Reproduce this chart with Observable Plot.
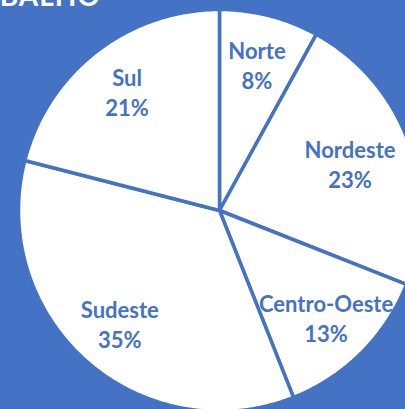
<!DOCTYPE html>
<html>
<head>
<meta charset="utf-8">
<script src="https://cdn.jsdelivr.net/npm/d3@7"></script>
<script src="https://cdn.jsdelivr.net/npm/@observablehq/plot@0.6"></script>
<style>
  html, body { margin: 0; padding: 0; background: #4472C4; overflow: hidden; }
  #wrap { position: relative; width: 405px; height: 409px; }
  #title { position: absolute; right: 304px; top: -22px; color: #fff; font: bold 28px Lato, sans-serif; white-space: nowrap; letter-spacing: 1px; }
  #chart { position: absolute; left: 0; top: 0; }
</style>
</head>
<body>
<div id="wrap">
  <div id="chart"></div>
  <div id="title">TRABALHO</div>
</div>
<script>
const regions = ["Norte", "Nordeste", "Centro-Oeste", "Sudeste", "Sul"];
const shares = [8, 23, 13, 35, 21];

const blue = "#4472C4";
const fontSize = 22;
const data = regions.map((name, i) => ({name, share: shares[i]}));
const arcs = d3.pie().sort(null).value(d => d.share)(data);

// polygon outline of each slice (unit circle, y up)
const pts = [];
arcs.forEach(a => {
  pts.push({name: a.data.name, x: 0, y: 0});
  const n = Math.max(2, Math.ceil((a.endAngle - a.startAngle) / (Math.PI / 360)));
  for (let k = 0; k <= n; k++) {
    const t = a.startAngle + (a.endAngle - a.startAngle) * k / n;
    pts.push({name: a.data.name, x: Math.sin(t), y: Math.cos(t)});
  }
});

// measure label widths so labels stay inside the visible picture
const ctx = document.createElement("canvas").getContext("2d");
ctx.font = `bold ${fontSize}px Lato`;
const pxPerUnit = 201;
const rightLimit = (395 - 219) / pxPerUnit;
const labelR = 0.75;
const labels = arcs.map(a => {
  const m = (a.startAngle + a.endAngle) / 2;
  const half = ctx.measureText(a.data.name).width / 2 / pxPerUnit;
  let r = labelR;
  const s = Math.sin(m);
  if (s > 0 && r * s + half > rightLimit) r = (rightLimit - half) / s;
  return {text: `${a.data.name}\n${a.data.share}%`, x: r * Math.sin(m), y: r * Math.cos(m)};
});

const chart = Plot.plot({
  width: 405,
  height: 409,
  margin: 0,
  x: {domain: [-1, 1], range: [18, 420], axis: null},
  y: {domain: [-1, 1], range: [411, 9], axis: null},
  style: {background: "transparent"},
  marks: [
    Plot.line(pts, {x: "x", y: "y", z: "name", fill: "white", stroke: blue, strokeWidth: 3.5, curve: "linear-closed", strokeLinejoin: "miter"}),
    Plot.text(labels, {x: "x", y: "y", text: "text", fill: blue, fontSize, fontWeight: "bold", fontFamily: "Lato", lineHeight: 1.36})
  ]
});
document.getElementById("chart").appendChild(chart);
</script>
</body>
</html>
